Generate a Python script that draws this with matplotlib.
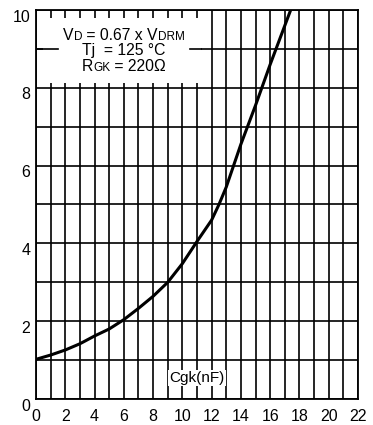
import matplotlib
matplotlib.use("Agg")
import matplotlib.pyplot as plt
from matplotlib.patches import Rectangle
from matplotlib.transforms import ScaledTranslation

plt.rcParams['font.family'] = ['Liberation Sans', 'DejaVu Sans']

cgk_nf = [0, 1, 2, 3, 4, 5, 6, 7, 8, 9, 10, 11, 12, 12.5, 13, 13.5, 14, 15, 16, 17.4]
igt_ratio = [1.02, 1.13, 1.26, 1.42, 1.62, 1.8, 2.04, 2.33, 2.64, 3.0, 3.48, 4.05, 4.6, 5.0, 5.45, 6.0, 6.55, 7.55, 8.6, 10.0]
x_ticks = [0, 2, 4, 6, 8, 10, 12, 14, 16, 18, 20, 22]
y_ticks = [0, 2, 4, 6, 8, 10]

fig = plt.figure(figsize=(3.73, 4.25), dpi=100)
ax = fig.add_axes([36/373, 26/425, 322/373, 389/425])
ax.set_xlim(0, 22)
ax.set_ylim(0, 10)

# grid
for gx in range(0, 23):
    ax.axvline(gx, color='black', lw=1.2, zorder=1)
for gy in range(0, 11):
    ax.axhline(gy, color='black', lw=1.2, zorder=1)

# white box for conditions
ax.add_patch(Rectangle((0.5, 8.12), 10.8, 1.68, facecolor='white', edgecolor='none', zorder=2))
ax.plot([0, 1.5], [9, 9], color='black', lw=1.2, zorder=3)
ax.plot([10.5, 11.3], [9, 9], color='black', lw=1.2, zorder=3)

ax.plot(cgk_nf, igt_ratio, color='black', lw=2.2, zorder=4, clip_on=True)

ax.set_xticks(x_ticks)
ax.set_yticks(y_ticks)
ax.tick_params(axis='x', length=0, labelsize=11.5, pad=7)
ax.tick_params(axis='y', length=0, labelsize=11.5, pad=4)
for s in ax.spines.values():
    s.set_linewidth(1.3)
    s.set_zorder(5)

offset = ScaledTranslation(0, -4/72, fig.dpi_scale_trans)
for lbl in ax.get_yticklabels():
    lbl.set_transform(lbl.get_transform() + offset)

ax.text(11.0, 0.55, 'Cgk(nF)', fontsize=11, ha='center', va='center', zorder=6,
        bbox=dict(facecolor='white', edgecolor='none', pad=0.8))

# rich text lines
fig.canvas.draw()
renderer = fig.canvas.get_renderer()

def rich_line(parts, xc, yc):
    widths = []
    for txt, sz in parts:
        t = ax.text(0, 0, txt, fontsize=sz)
        bb = t.get_window_extent(renderer)
        widths.append(bb.width)
        t.remove()
    total = sum(widths)
    x0_disp, y_disp = ax.transData.transform((xc, yc))
    xcur = x0_disp - total / 2
    inv = ax.transData.inverted()
    for (txt, sz), w in zip(parts, widths):
        xd, yd = inv.transform((xcur, y_disp))
        ax.text(xd, yd, txt, fontsize=sz, ha='left', va='baseline', zorder=6)
        xcur += w

rich_line([('V', 11.3), ('D', 8.5), (' = 0.67 x V', 11.3), ('DRM', 8.5)], 6.0, 9.23)
rich_line([('Tj  = 125 °C', 11.3)], 6.0, 8.84)
rich_line([('R', 11.3), ('GK', 8.5), (' = 220Ω', 11.3)], 6.0, 8.42)

fig.savefig('out.png', dpi=100)
